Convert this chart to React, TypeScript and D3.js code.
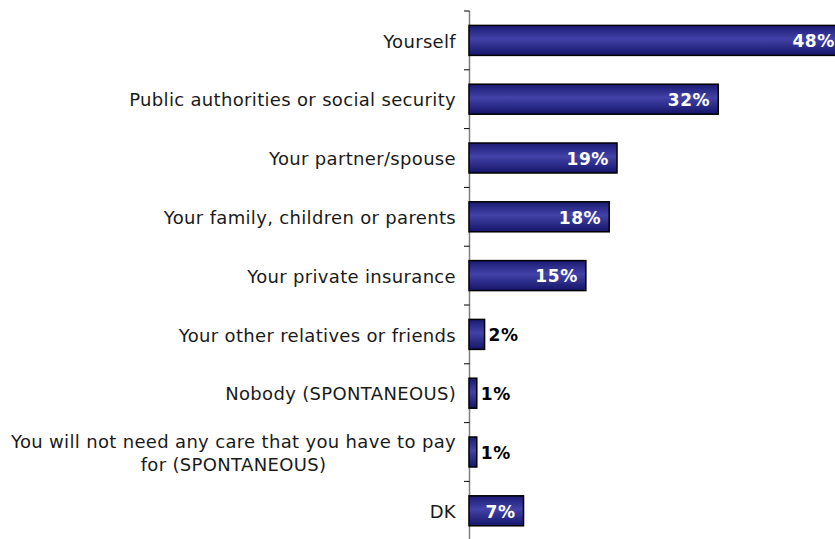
import React, { useEffect, useRef } from "react";
import * as d3 from "d3";

const categories: string[] = [
  "Yourself",
  "Public authorities or social security",
  "Your partner/spouse",
  "Your family, children or parents",
  "Your private insurance",
  "Your other relatives or friends",
  "Nobody (SPONTANEOUS)",
  "You will not need any care that you have to pay\nfor (SPONTANEOUS)",
  "DK",
];
const values: number[] = [48, 32, 19, 18, 15, 2, 1, 1, 7];

const W = 835;
const H = 539;
const FONT = "'DejaVu Sans', Verdana, sans-serif";

export default function App() {
  const ref = useRef<SVGSVGElement | null>(null);

  useEffect(() => {
    const svg = d3.select(ref.current);
    svg.selectAll("*").remove();

    const top = 11;
    const step = 58.8;
    const y = d3
      .scaleBand<string>()
      .domain(categories)
      .range([top, top + step * categories.length])
      .paddingInner(0.49)
      .paddingOuter(0.245);

    const x = d3.scaleLinear().domain([0, 50]).range([469, 858.5]);

    const defs = svg.append("defs");
    const grad = defs
      .append("linearGradient")
      .attr("id", "barGrad")
      .attr("x1", 0)
      .attr("y1", 0)
      .attr("x2", 0)
      .attr("y2", 1);
    grad.append("stop").attr("offset", "0%").attr("stop-color", "#1a1a72");
    grad.append("stop").attr("offset", "45%").attr("stop-color", "#4242a8");
    grad.append("stop").attr("offset", "100%").attr("stop-color", "#15156a");

    // axis line
    svg
      .append("line")
      .attr("x1", 469.5)
      .attr("x2", 469.5)
      .attr("y1", top)
      .attr("y2", H + 5)
      .attr("stroke", "#808080")
      .attr("stroke-width", 1.5);

    // ticks at band boundaries
    const boundaries = d3.range(categories.length + 1).map((i) => top + i * y.step());
    svg
      .selectAll("line.tick")
      .data(boundaries)
      .join("line")
      .attr("class", "tick")
      .attr("x1", 464)
      .attr("x2", 469.5)
      .attr("y1", (d) => d)
      .attr("y2", (d) => d)
      .attr("stroke", "#000")
      .attr("stroke-width", 1);

    // bars
    svg
      .selectAll("rect.bar")
      .data(values)
      .join("rect")
      .attr("class", "bar")
      .attr("x", x(0))
      .attr("y", (_d, i) => y(categories[i])!)
      .attr("width", (d) => x(d) - x(0))
      .attr("height", y.bandwidth())
      .attr("fill", "url(#barGrad)")
      .attr("stroke", "#000")
      .attr("stroke-width", 1.5);

    // value labels
    svg
      .selectAll("text.val")
      .data(values)
      .join("text")
      .attr("class", "val")
      .attr("x", (d) => (d >= 5 ? x(d) - 8 : x(d) + 4))
      .attr("y", (_d, i) => y(categories[i])! + y.bandwidth() / 2)
      .attr("dy", "0.4em")
      .attr("text-anchor", (d) => (d >= 5 ? "end" : "start"))
      .attr("font-family", FONT)
      .attr("font-size", 17)
      .attr("font-weight", "bold")
      .attr("letter-spacing", 0.6)
      .attr("fill", (d) => (d >= 5 ? "#fff" : "#000"))
      .text((d) => `${d}%`);

    // category labels
    const labelRight = 456;
    const fs = 18;
    const ls = 0.33;
    categories.forEach((c) => {
      const lines = c.split("\n");
      const cy = y(c)! + y.bandwidth() / 2;
      const lh = 23;
      const g = svg.append("text")
        .attr("font-family", FONT)
        .attr("font-size", fs)
        .attr("letter-spacing", ls)
        .attr("fill", "#1a1a1a");
      if (lines.length === 1) {
        g.attr("x", labelRight).attr("y", cy).attr("dy", "0.4em").attr("text-anchor", "end").text(c);
      } else {
        const tmp = svg.append("text")
          .attr("font-family", FONT)
          .attr("font-size", fs)
          .attr("letter-spacing", ls)
          .text(lines[0]);
        const w = (tmp.node() as SVGTextElement).getComputedTextLength();
        tmp.remove();
        const cx = labelRight - w / 2;
        g.attr("text-anchor", "middle");
        lines.forEach((ln, k) => {
          g.append("tspan")
            .attr("x", cx)
            .attr("y", cy + (k - (lines.length - 1) / 2) * lh)
            .attr("dy", "0.4em")
            .text(ln);
        });
      }
    });
  }, []);

  return (
    <svg
      ref={ref}
      width={W}
      height={H}
      style={{ position: "absolute", left: 0, top: 0, background: "#fff" }}
    />
  );
}
